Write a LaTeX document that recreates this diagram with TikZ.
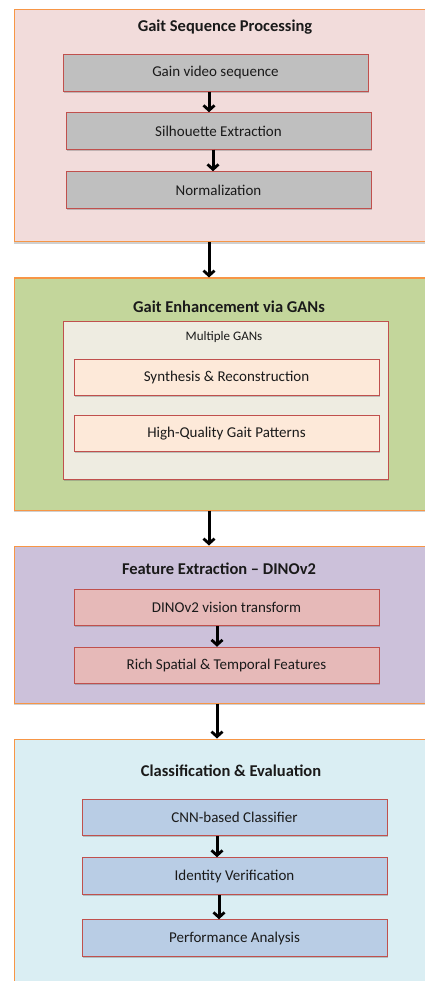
\documentclass[tikz,border=0pt]{standalone}
\usepackage{fontspec}
\setmainfont{Carlito}
\usetikzlibrary{arrows.meta,shadows}
\definecolor{orangeB}{HTML}{F79646}
\definecolor{redB}{HTML}{C0504D}
\definecolor{pinkF}{HTML}{F2DCDB}
\definecolor{greenF}{HTML}{C3D69B}
\definecolor{purpleF}{HTML}{CCC1DA}
\definecolor{blueF}{HTML}{DAEEF3}
\definecolor{grayF}{HTML}{BFBFBF}
\definecolor{panelF}{HTML}{EEECE1}
\definecolor{peachF}{HTML}{FDE9D9}
\definecolor{roseF}{HTML}{E6B9B8}
\definecolor{steelF}{HTML}{B9CDE5}
\definecolor{txt}{HTML}{1A1A1A}
\tikzset{
  outerbox/.style={draw=orangeB, line width=1pt, inner sep=0pt,
    drop shadow={shadow xshift=0pt, shadow yshift=-2pt, opacity=0.3, fill=black!60}},
  stepbox/.style={draw=redB, line width=1pt, minimum width=305pt, minimum height=36.5pt,
    inner sep=0pt, text=txt, font=\fontsize{15}{17}\selectfont,
    drop shadow={shadow xshift=1pt, shadow yshift=-1.5pt, opacity=0.35, fill=black!60}},
  panelbox/.style={draw=redB, line width=1pt, fill=panelF, inner sep=0pt,
    drop shadow={shadow xshift=1pt, shadow yshift=-1.5pt, opacity=0.35, fill=black!60}},
  boxtitle/.style={text=txt, font=\bfseries\fontsize{16.5}{19}\selectfont},
  smalltitle/.style={text=txt, font=\fontsize{13}{15}\selectfont},
  arr/.style={line width=3pt, -{Straight Barb[length=5pt,width=11pt,line width=2.8pt]}, black}
}
\begin{document}
\begin{tikzpicture}[x=1pt,y=-1pt]
\useasboundingbox (0,0) rectangle (425,981);
\clip (0,0) rectangle (425,981);
\fill[white] (0,0) rectangle (425,981);
% outer boxes
\node[outerbox, fill=pinkF, minimum width=426pt, minimum height=232pt] (g1) at (227,126) {};
\node[outerbox, fill=greenF, minimum width=426pt, minimum height=232pt] (g2) at (227,394) {};
\node[outerbox, fill=purpleF, minimum width=426pt, minimum height=157pt] (g3) at (227,624.5) {};
\node[outerbox, fill=blueF, minimum width=426pt, minimum height=262pt] (g4) at (227,870) {};
% titles
\node[boxtitle] (t1) at (225,27) {Gait Sequence Processing};
\node[boxtitle] (t2) at (229,307) {Gait Enhancement via GANs};
\node[boxtitle] (t3) at (219,569) {Feature Extraction – DINOv2};
\node[boxtitle] (t4) at (231,771) {Classification \& Evaluation};
% stage 1
\node[stepbox, fill=grayF] (a1) at (215.5,73) {Gain video sequence};
\node[stepbox, fill=grayF] (a2) at (218.5,131) {Silhouette Extraction};
\node[stepbox, fill=grayF] (a3) at (218.5,190) {Normalization};
% stage 2
\node[panelbox, minimum width=325pt, minimum height=158pt] (p2) at (225.5,400) {};
\node[smalltitle] (m2) at (224,337) {Multiple GANs};
\node[stepbox, fill=peachF] (b1) at (226.5,377.5) {Synthesis \& Reconstruction};
\node[stepbox, fill=peachF] (b2) at (226.5,433.5) {High-Quality Gait Patterns};
% stage 3
\node[stepbox, fill=roseF] (c1) at (226.5,607.5) {DINOv2 vision transform};
\node[stepbox, fill=roseF] (c2) at (226.5,665.5) {Rich Spatial \& Temporal Features};
% stage 4
\node[stepbox, fill=steelF] (d1) at (234.5,817.5) {CNN-based Classifier};
\node[stepbox, fill=steelF] (d2) at (234.5,876) {Identity Verification};
\node[stepbox, fill=steelF] (d3) at (234.5,938) {Performance Analysis};
% arrows inside stages
\draw[arr] ([xshift=-6.5pt]a1.south) -- ([xshift=-9.5pt]a2.north);
\draw[arr] ([xshift=-5.5pt]a2.south) -- ([xshift=-5.5pt]a3.north);
\draw[arr] ([xshift=-9.5pt]c1.south) -- ([xshift=-9.5pt]c2.north);
\draw[arr] ([xshift=-17.5pt]d1.south) -- ([xshift=-17.5pt]d2.north);
\draw[arr] ([xshift=-15.5pt]d2.south) -- ([xshift=-15.5pt]d3.north);
% arrows between stages
\draw[arr] ([xshift=-18pt]g1.south) -- ([xshift=-18pt]g2.north);
\draw[arr] ([xshift=-18pt]g2.south) -- ([xshift=-18pt]g3.north);
\draw[arr] ([xshift=-10pt]g3.south) -- ([xshift=-10pt]g4.north);
\end{tikzpicture}
\end{document}
